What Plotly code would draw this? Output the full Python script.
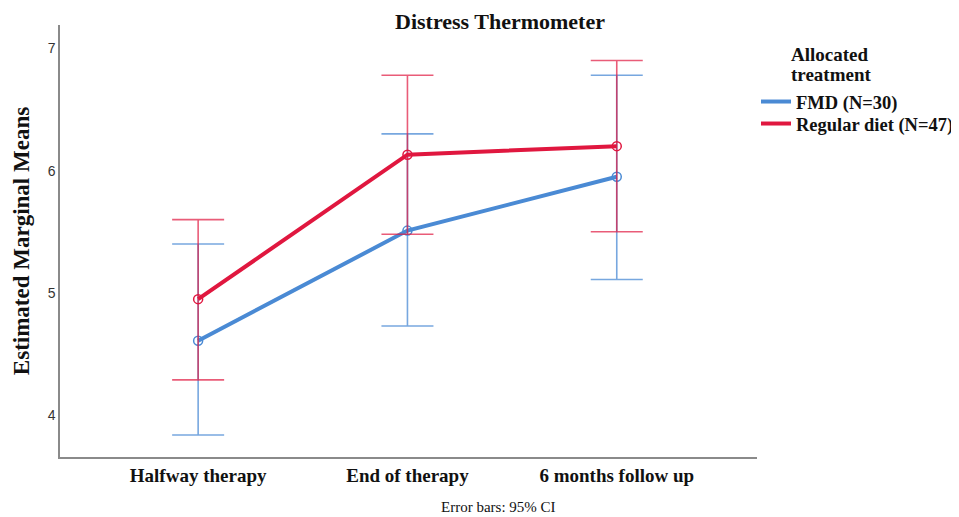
import plotly.graph_objects as go

categories = ["Halfway therapy", "End of therapy", "6 months follow up"]
fmd_mean = [4.61, 5.51, 5.95]
fmd_upper = [5.40, 6.30, 6.78]
fmd_lower = [3.84, 4.73, 5.11]
reg_mean = [4.95, 6.13, 6.20]
reg_upper = [5.60, 6.78, 6.90]
reg_lower = [4.29, 5.48, 5.50]
series_names = ["FMD (N=30)", "Regular diet (N=47)"]
legend_title_lines = ["Allocated", "treatment"]

BLUE = "#4a8ad4"
RED = "#e0173f"
BLUE_EB = "rgba(74,138,212,0.75)"
RED_EB = "rgba(224,23,63,0.7)"
SERIF = "Liberation Serif, Times New Roman, serif"

# page has an 8px body margin; work in reference-page pixels and offset
OFF = 8
W, H = 959 - OFF, 517 - OFF
L, T = 60 - OFF, 25 - OFF
R = W - (757 - OFF)
B = H - (457 - OFF)
PW, PH = W - L - R, H - T - B

fig = go.Figure()

def add_series(mean, upper, lower, color, ebcolor, name, legend):
    xs = list(range(len(categories)))
    fig.add_trace(go.Scatter(
        x=xs, y=mean, mode="lines+markers", showlegend=False,
        line=dict(color=color, width=4),
        marker=dict(symbol="circle-open", size=9, color=color, line=dict(width=1.5)),
        error_y=dict(type="data", symmetric=False,
                     array=[u - m for u, m in zip(upper, mean)],
                     arrayminus=[m - l for m, l in zip(mean, lower)],
                     color=ebcolor, thickness=1.6, width=26),
    ))
    fig.add_trace(go.Scatter(x=[None], y=[None], mode="lines", name="<b>" + name + "</b>",
                             line=dict(color=color, width=4), legend=legend))

add_series(fmd_mean, fmd_upper, fmd_lower, BLUE, BLUE_EB, series_names[0], "legend")
add_series(reg_mean, reg_upper, reg_lower, RED, RED_EB, series_names[1], "legend2")

def leg(top_px):
    return dict(
        xref="container", yref="container", x=(756 - OFF) / W, y=1 - (top_px - OFF) / H,
        xanchor="left", yanchor="top",
        font=dict(family=SERIF, size=18.5, color="#111"),
        itemwidth=30, bgcolor="rgba(0,0,0,0)",
    )

fig.update_layout(
    width=W, height=H,
    margin=dict(l=L, r=R, t=T, b=B, autoexpand=False),
    plot_bgcolor="white", paper_bgcolor="white",
    showlegend=True,
    legend=leg(83),
    legend2=leg(105),
    xaxis=dict(
        range=[-0.66, 2.67], tickmode="array", automargin=False,
        tickvals=list(range(len(categories))),
        ticktext=["<b>" + c + "</b>" for c in categories],
        tickfont=dict(family=SERIF, size=19, color="#111"),
        showgrid=False, zeroline=False, showline=True,
        linecolor="#8a8a8a", linewidth=1.5, ticks="",
    ),
    yaxis=dict(
        range=[3.66, 7.19], tickvals=[4, 5, 6, 7], automargin=False,
        tickfont=dict(family="Liberation Sans, Arial, sans-serif", size=14, color="#333"),
        showgrid=False, zeroline=False, showline=True,
        linecolor="#8a8a8a", linewidth=1.5, ticks="",
        title=dict(text="<b>Estimated Marginal Means</b>",
                   font=dict(family=SERIF, size=23, color="#111"), standoff=12),
    ),
)

def px_x(x):
    return (x - OFF - L) / PW

def px_y(y):
    return 1 - (y - OFF - T) / PH

fig.add_annotation(text="<b>Distress Thermometer</b>", xref="paper", yref="paper",
                   x=px_x(500), y=px_y(OFF), yanchor="top", showarrow=False,
                   borderpad=0, font=dict(family=SERIF, size=22, color="#111"))
for line_text, ypx in zip(legend_title_lines, [55, 74]):
    fig.add_annotation(text="<b>" + line_text + "</b>", xref="paper", yref="paper",
                       x=px_x(789), y=px_y(ypx), xanchor="left", yanchor="middle",
                       showarrow=False, font=dict(family=SERIF, size=19, color="#111"))
fig.add_annotation(text="Error bars: 95% CI", xref="paper", yref="paper",
                   x=px_x(498), y=px_y(507), yanchor="middle", showarrow=False,
                   font=dict(family=SERIF, size=15, color="#111"))

fig.write_html("out.html")
